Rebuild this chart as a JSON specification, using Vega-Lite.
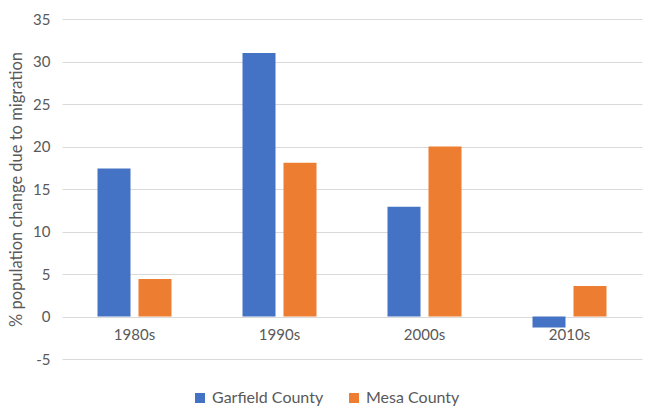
{
  "$schema": "https://vega.github.io/schema/vega-lite/v6.json",
  "width": 580,
  "height": 340,
  "autosize": {"type": "none"},
  "padding": {"left": 62, "top": 19, "right": 5, "bottom": 50},
  "background": "white",
  "config": {
    "view": {"stroke": null},
    "font": "Lato",
    "axis": {"labelFont": "Lato", "titleFont": "Lato", "labelColor": "#595959", "titleColor": "#595959"},
    "legend": {"labelFont": "Lato", "labelColor": "#595959"}
  },
  "data": {
    "values": [
      {"decade": "1980s", "county": "Garfield County", "value": 17.4},
      {"decade": "1980s", "county": "Mesa County", "value": 4.4},
      {"decade": "1990s", "county": "Garfield County", "value": 31.0},
      {"decade": "1990s", "county": "Mesa County", "value": 18.1},
      {"decade": "2000s", "county": "Garfield County", "value": 12.9},
      {"decade": "2000s", "county": "Mesa County", "value": 20.0},
      {"decade": "2010s", "county": "Garfield County", "value": -1.3},
      {"decade": "2010s", "county": "Mesa County", "value": 3.6}
    ]
  },
  "mark": {"type": "bar"},
  "encoding": {
    "x": {
      "field": "decade",
      "type": "nominal",
      "scale": {"paddingInner": 0, "paddingOuter": 0},
      "axis": {
        "title": null,
        "labelAngle": 0,
        "domain": false,
        "ticks": false,
        "offset": -43,
        "labelPadding": 11,
        "labelFontSize": 15
      }
    },
    "xOffset": {
      "field": "county",
      "type": "nominal",
      "scale": {"paddingInner": 0.195, "paddingOuter": 0.866}
    },
    "y": {
      "field": "value",
      "type": "quantitative",
      "scale": {"domain": [-5, 35], "nice": false, "zero": false},
      "axis": {
        "title": "% population change due to migration",
        "values": [-5, 0, 5, 10, 15, 20, 25, 30, 35],
        "labelExpr": "datum.value + ''",
        "domain": false,
        "ticks": false,
        "gridColor": "#D9D9D9",
        "gridWidth": 1,
        "labelPadding": 12,
        "labelFontSize": 15,
        "titleFontSize": 16.5,
        "titleFontWeight": "normal",
        "titlePadding": 8
      }
    },
    "color": {
      "field": "county",
      "type": "nominal",
      "scale": {"domain": ["Garfield County", "Mesa County"], "range": ["#4472C4", "#ED7D31"]},
      "legend": {
        "title": null,
        "orient": "none",
        "direction": "horizontal",
        "legendX": 130,
        "legendY": 371,
        "symbolType": "square",
        "symbolSize": 100,
        "symbolStrokeWidth": 0,
        "labelFontSize": 16,
        "labelOffset": 4,
        "columnPadding": 22
      }
    }
  }
}
